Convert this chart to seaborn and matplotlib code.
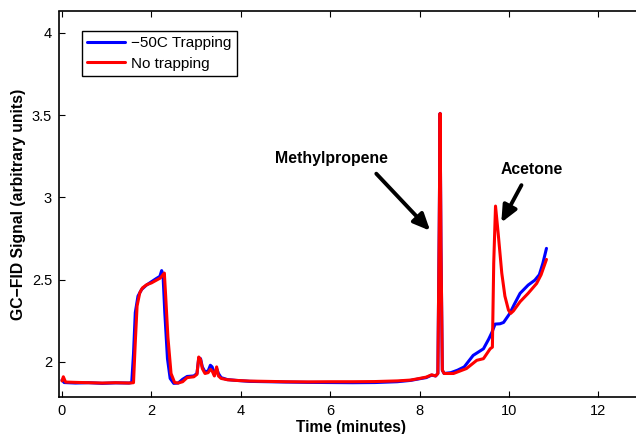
import numpy as np
import matplotlib
matplotlib.use("Agg")
import matplotlib.pyplot as plt
import pandas as pd
import seaborn as sns

# -50C trapping trace
trap_t = [0.0, 0.05, 0.3, 0.6, 0.9, 1.2, 1.5, 1.56, 1.60, 1.64, 1.70, 1.78, 1.88, 2.0,
          2.1, 2.19, 2.23, 2.26, 2.30, 2.36, 2.42, 2.50, 2.60, 2.70, 2.80, 2.95, 3.02,
          3.06, 3.10, 3.14, 3.20, 3.27, 3.32, 3.36, 3.41, 3.46, 3.50, 3.56, 3.70, 3.90,
          4.2, 4.6, 5.0, 5.5, 6.0, 6.5, 7.0, 7.5, 7.8, 8.0, 8.15, 8.27, 8.36, 8.41,
          8.44, 8.46, 8.48, 8.51, 8.55, 8.70, 8.85, 9.00, 9.20, 9.43, 9.55, 9.62, 9.69,
          9.80, 9.88, 10.02, 10.12, 10.25, 10.43, 10.58, 10.68, 10.76, 10.84]
trap_sig = [1.89, 1.875, 1.872, 1.874, 1.870, 1.873, 1.872, 1.875, 2.05, 2.30, 2.40, 2.44,
            2.465, 2.487, 2.505, 2.52, 2.555, 2.53, 2.30, 2.02, 1.90, 1.870, 1.872, 1.895,
            1.912, 1.915, 1.93, 2.025, 2.02, 1.97, 1.94, 1.945, 1.98, 1.97, 1.92, 1.96,
            1.93, 1.905, 1.893, 1.888, 1.882, 1.880, 1.878, 1.876, 1.875, 1.874, 1.875,
            1.880, 1.888, 1.898, 1.905, 1.92, 1.915, 1.93, 2.8, 3.51, 2.7, 1.95, 1.93,
            1.935, 1.950, 1.970, 2.040, 2.080, 2.140, 2.180, 2.230, 2.232, 2.240, 2.295,
            2.350, 2.417, 2.467, 2.497, 2.530, 2.600, 2.690]

# no trapping trace
notrap_t = [0.0, 0.03, 0.08, 0.3, 0.6, 0.9, 1.2, 1.5, 1.60, 1.64, 1.68, 1.74, 1.80, 1.90,
            2.0, 2.1, 2.2, 2.26, 2.29, 2.32, 2.37, 2.44, 2.52, 2.60, 2.70, 2.80, 2.95,
            3.02, 3.06, 3.10, 3.14, 3.20, 3.27, 3.32, 3.36, 3.41, 3.46, 3.50, 3.56, 3.70,
            3.90, 4.2, 4.6, 5.0, 5.5, 6.0, 6.5, 7.0, 7.5, 7.8, 8.0, 8.15, 8.27, 8.36, 8.41,
            8.44, 8.46, 8.48, 8.51, 8.55, 8.76, 9.05, 9.28, 9.43, 9.58, 9.63, 9.66, 9.70,
            9.76, 9.84, 9.91, 9.99, 10.04, 10.10, 10.25, 10.43, 10.62, 10.72, 10.84]
notrap_sig = [1.885, 1.91, 1.878, 1.876, 1.874, 1.872, 1.874, 1.872, 1.874, 2.12, 2.34,
              2.42, 2.45, 2.47, 2.48, 2.495, 2.51, 2.53, 2.54, 2.40, 2.15, 1.93, 1.875,
              1.872, 1.880, 1.905, 1.910, 1.925, 2.030, 2.015, 1.960, 1.930, 1.935, 1.955,
              1.945, 1.915, 1.970, 1.915, 1.900, 1.892, 1.888, 1.884, 1.882, 1.880, 1.879,
              1.880, 1.880, 1.881, 1.885, 1.890, 1.900, 1.908, 1.922, 1.915, 1.930, 2.80,
              3.51, 2.70, 1.95, 1.930, 1.930, 1.960, 2.010, 2.020, 2.080, 2.090, 2.60, 2.947,
              2.78, 2.54, 2.40, 2.315, 2.295, 2.310, 2.366, 2.417, 2.477, 2.530, 2.623]

labels = ["\u221250C Trapping", "No trapping"]

df = pd.concat([
    pd.DataFrame({"t": trap_t, "sig": trap_sig, "run": labels[0]}),
    pd.DataFrame({"t": notrap_t, "sig": notrap_sig, "run": labels[1]}),
])

sns.set_style("ticks")
plt.rcParams["font.family"] = ["Liberation Sans", "DejaVu Sans"]
plt.rcParams.update({"text.color": "black", "axes.labelcolor": "black",
                     "axes.edgecolor": "black", "xtick.color": "black",
                     "ytick.color": "black"})

fig = plt.figure(figsize=(6.36, 4.34), dpi=100)
ax = fig.add_axes([59 / 636, (434 - 396.7) / 434, 584 / 636, (396.7 - 11.5) / 434])

sns.lineplot(data=df, x="t", y="sig", hue="run", palette=["#0000ff", "#ff0000"],
             sort=False, estimator=None, linewidth=2.2, ax=ax)

ax.set_xlim(-0.067, 13.0)
ax.set_ylim(1.789, 4.129)
ax.set_xticks([0, 2, 4, 6, 8, 10, 12])
ax.set_yticks([2, 2.5, 3, 3.5, 4])
ax.set_yticklabels(["2", "2.5", "3", "3.5", "4"])
ax.tick_params(direction="in", top=True, right=True, length=4, width=0.8,
               labelsize=10.5, pad=5)
for s in ax.spines.values():
    s.set_linewidth(1.2)

ax.set_xlabel("Time (minutes)", fontsize=11.2, fontweight="bold", labelpad=2)
ax.set_ylabel("GC\u2212FID Signal (arbitrary units)", fontsize=11.3, fontweight="bold",
              labelpad=4)

ax.annotate("", xy=(8.28, 2.785), xytext=(6.99, 3.156),
            arrowprops=dict(arrowstyle="-|>,head_length=1.0,head_width=0.45",
                            color="black", lw=2.8))
ax.text(6.02, 3.233, "Methylpropene", ha="center", va="center", fontsize=11.4,
        fontweight="bold")
ax.annotate("", xy=(9.80, 2.832), xytext=(10.31, 3.089),
            arrowprops=dict(arrowstyle="-|>,head_length=1.0,head_width=0.45",
                            color="black", lw=2.8))
ax.text(10.51, 3.172, "Acetone", ha="center", va="center", fontsize=11.3,
        fontweight="bold")

leg = ax.legend(loc="upper left", bbox_to_anchor=(0.039, 0.949), borderaxespad=0,
                fontsize=11, frameon=True, fancybox=False, handlelength=2.5,
                handletextpad=0.4, borderpad=0.35, labelspacing=0.4)
leg.get_frame().set_edgecolor("black")
leg.get_frame().set_linewidth(1.0)
leg.get_frame().set_alpha(1)

fig.savefig("out.png", dpi=100)
